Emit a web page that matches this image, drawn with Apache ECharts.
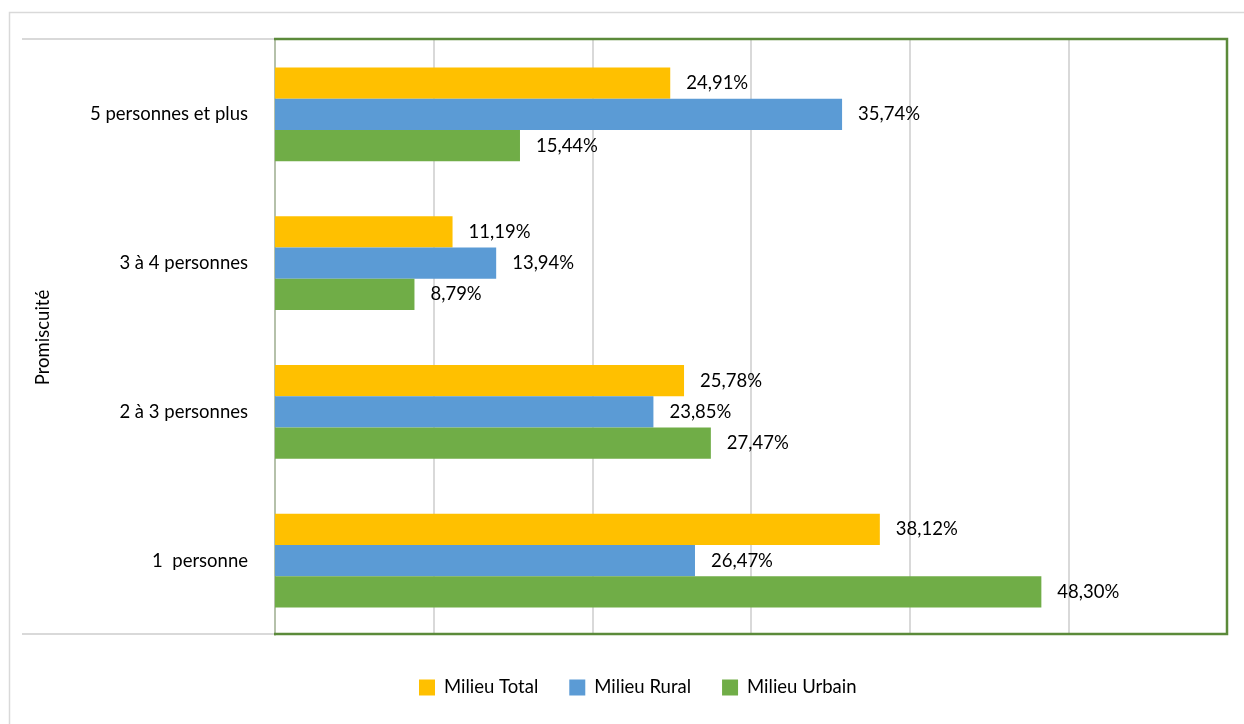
<!DOCTYPE html>
<html><head><meta charset="utf-8">
<script src="https://cdn.jsdelivr.net/npm/echarts@6/dist/echarts.min.js"></script>
<style>html,body{margin:0;padding:0;background:#fff}#c{width:1244px;height:724px}</style>
</head><body><div id="c"></div>
<script>
const categories = ['1  personne', '2 à 3 personnes', '3 à 4 personnes', '5 personnes et plus'];
const seriesNames = ['Milieu Total', 'Milieu Rural', 'Milieu Urbain'];
const totalValues = [38.12, 25.78, 11.19, 24.91];
const ruralValues = [26.47, 23.85, 13.94, 35.74];
const urbainValues = [48.30, 27.47, 8.79, 15.44];
const colors = ['#FFC000', '#5B9BD5', '#70AD47'];
const FONT = 'Lato';
const FS = 18.5;

const chart = echarts.init(document.getElementById('c'));
function mk(name, data, color) {
  return {
    name, type: 'bar', data, barCategoryGap: '37%', barGap: '0%',
    itemStyle: { color },
    label: { show: true, position: 'right', distance: 16, color: '#000', fontFamily: FONT, fontSize: FS,
      formatter: p => p.value.toFixed(2).replace('.', ',') + '%' }
  };
}
chart.setOption({
  animation: false,
  textStyle: { fontFamily: FONT },
  graphic: [
    { type: 'polyline', z: 100, shape: { points: [[9.5, 724], [9.5, 12.5], [1244, 12.5]] }, style: { stroke: '#D9D9D9', lineWidth: 1.5, fill: null } },
    { type: 'line', z: 100, shape: { x1: 22, y1: 39, x2: 274, y2: 39 }, style: { stroke: '#D9D9D9', lineWidth: 2 } },
    { type: 'line', z: 100, shape: { x1: 22, y1: 634, x2: 274, y2: 634 }, style: { stroke: '#D9D9D9', lineWidth: 2 } },
    { type: 'polyline', z: 100, shape: { points: [[274, 39], [1227, 39], [1227, 634], [274, 634]] }, style: { stroke: '#5B8A3A', lineWidth: 2.5, fill: null } }
  ],
  grid: { left: 275, right: 17, top: 40, bottom: 89 },
  legend: {
    data: seriesNames, bottom: 22, left: 414, itemWidth: 16, itemHeight: 16, itemGap: 31, icon: 'rect',
    textStyle: { fontFamily: FONT, fontSize: FS, color: '#000', padding: [0, 0, 0, 4] }
  },
  xAxis: {
    type: 'value', min: 0, max: 60, interval: 10,
    axisLabel: { show: false }, axisLine: { show: false }, axisTick: { show: false },
    splitLine: { lineStyle: { color: '#D9D9D9', width: 2 } }
  },
  yAxis: {
    type: 'category', data: categories,
    name: 'Promiscuité', nameLocation: 'middle', nameRotate: 90, nameGap: 222,
    nameTextStyle: { fontFamily: FONT, fontSize: FS, color: '#000' },
    axisLine: { show: true, lineStyle: { color: '#A9B89A', width: 1.5 } },
    axisTick: { show: false },
    axisLabel: { margin: 27, fontFamily: FONT, fontSize: FS, color: '#000' }
  },
  series: [mk(seriesNames[0], totalValues, colors[0]), mk(seriesNames[1], ruralValues, colors[1]), mk(seriesNames[2], urbainValues, colors[2])]
});
</script></body></html>
